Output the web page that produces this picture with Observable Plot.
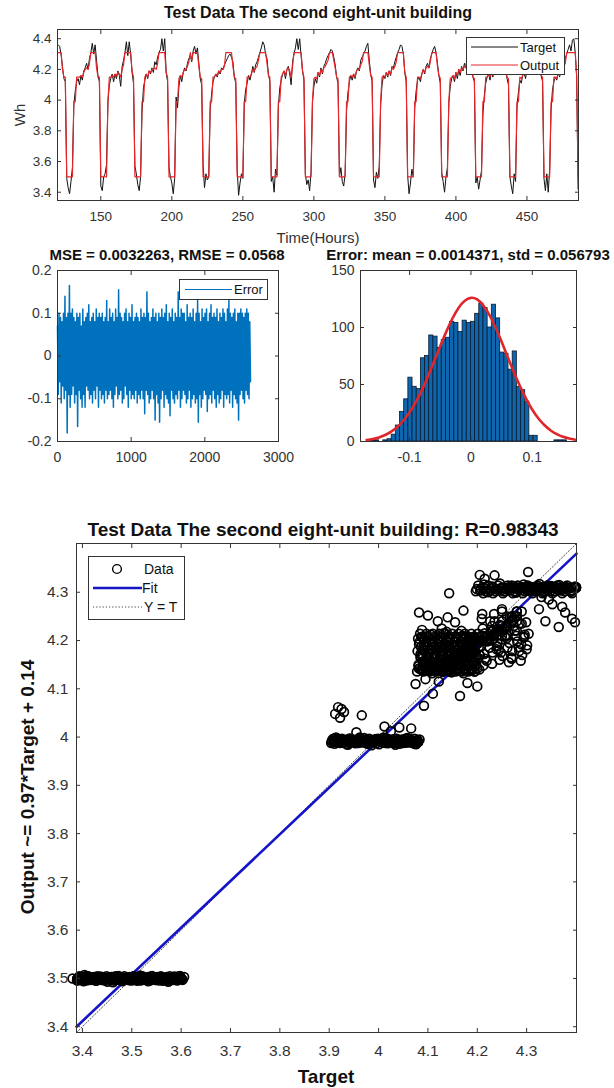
<!DOCTYPE html>
<html><head><meta charset="utf-8">
<script src="https://cdn.jsdelivr.net/npm/d3@7"></script>
<script src="https://cdn.jsdelivr.net/npm/@observablehq/plot@0.6"></script>
<style>
body{margin:0;background:#fff;font-family:"Liberation Sans",Arial,sans-serif;}
#root{position:relative;width:614px;height:1088px;overflow:hidden;background:#fff;}
.t{position:absolute;white-space:nowrap;color:#111;line-height:1;}
</style></head><body><div id="root"></div>
<script>
// ---------------- DATA ----------------
const titleTop = "Test Data The second eight-unit building";
const titleErr = "MSE = 0.0032263, RMSE = 0.0568";
const titleHist = "Error: mean = 0.0014371, std = 0.056793";
const titleReg = "Test Data The second eight-unit building: R=0.98343";
const regYLabel = "Output ~= 0.97*Target + 0.14";

const startHour = 120;
const timeTicks = [150, 200, 250, 300, 350, 400, 450];
const whTicks = [3.4, 3.6, 3.8, 4.0, 4.2, 4.4];
const target = [
4.36,4.35,4.30,4.22,4.14,4.12,
3.49,3.43,3.39,3.47,3.56,3.97,4.06,4.12,4.14,4.10,4.16,4.13,4.19,4.21,4.24,4.20,4.27,4.31,4.37,4.30,4.36,4.26,4.16,4.12,
3.44,3.41,3.50,3.52,3.58,3.99,4.10,4.14,4.17,4.12,4.17,4.14,4.19,4.16,4.09,4.22,4.26,4.31,4.38,4.29,4.38,4.30,4.18,4.11,
3.57,3.52,3.45,3.41,3.50,3.92,4.08,4.13,4.17,4.14,4.19,4.17,4.21,4.18,4.25,4.23,4.28,4.31,4.33,4.40,4.32,4.40,4.18,4.12,
3.56,3.50,3.46,3.39,3.49,4.02,3.95,4.09,4.16,4.12,4.18,4.21,4.19,4.24,4.27,4.29,4.25,4.32,4.35,4.30,4.34,4.24,4.14,4.10,
3.58,3.43,3.52,3.48,3.50,3.94,4.04,4.12,4.15,4.17,4.15,4.19,4.17,4.21,4.20,4.23,4.25,4.27,4.29,4.30,4.28,4.25,4.15,4.11,
3.55,3.38,3.46,3.52,3.49,3.98,4.07,4.11,4.16,4.13,4.17,4.22,4.18,4.23,4.25,4.28,4.31,4.34,4.38,4.36,4.30,4.27,4.17,4.12,
3.47,3.50,3.40,3.55,3.51,3.96,4.08,4.13,4.17,4.19,4.14,4.20,4.22,4.17,4.10,4.25,4.30,4.34,4.40,4.33,4.40,4.29,4.19,4.13,
3.52,3.45,3.48,3.41,3.53,3.99,4.09,4.14,4.11,4.18,4.15,4.21,4.17,4.22,4.24,4.27,4.29,4.31,4.33,4.32,4.28,4.23,4.15,4.11,
3.50,3.56,3.47,3.44,3.52,3.93,4.05,4.12,4.16,4.13,4.17,4.14,4.19,4.21,4.19,4.26,4.28,4.30,4.32,4.35,4.37,4.26,4.17,4.12,
3.48,3.43,3.53,3.49,3.57,3.97,4.10,4.16,4.14,4.18,4.15,4.19,4.16,4.22,4.21,4.25,4.28,4.31,4.33,4.36,4.35,4.30,4.18,4.12,
3.51,3.39,3.46,3.55,3.50,3.95,4.06,4.13,4.15,4.12,4.17,4.20,4.17,4.22,4.24,4.21,4.27,4.30,4.33,4.35,4.31,4.24,4.16,4.11,
3.53,3.47,3.40,3.50,3.56,3.98,4.09,4.14,4.16,4.12,4.18,4.14,4.20,4.16,4.22,4.19,4.24,4.21,4.27,4.23,4.29,4.22,4.15,4.12,
3.46,3.50,3.42,3.48,3.54,3.91,4.03,4.11,4.15,4.17,4.13,4.19,4.15,4.21,4.18,4.23,4.20,4.26,4.24,4.28,4.25,4.20,4.14,4.10,
3.50,3.44,3.39,3.52,3.47,3.96,4.05,4.13,4.11,4.16,4.18,4.14,4.20,4.22,4.18,4.24,4.21,4.27,4.25,4.30,4.26,4.22,4.16,4.12,
3.49,3.41,3.52,3.40,3.55,3.94,4.07,4.12,4.15,4.13,4.18,4.15,4.21,4.19,4.24,4.27,4.30,4.33,4.36,4.32,4.39,4.40,4.31,4.15,
3.42];
const output = [
4.31,4.31,4.31,4.20,4.15,4.15,
3.50,3.50,3.50,3.50,3.50,3.99,3.99,4.15,4.15,4.15,4.16,4.15,4.18,4.20,4.21,4.20,4.24,4.31,4.31,4.31,4.31,4.21,4.15,4.15,
3.50,3.50,3.50,3.50,3.50,3.99,4.15,4.15,4.16,4.15,4.17,4.16,4.18,4.17,4.15,4.20,4.23,4.31,4.31,4.31,4.31,4.31,4.19,4.15,
3.50,3.50,3.50,3.50,3.50,3.99,3.99,4.15,4.17,4.15,4.19,4.18,4.20,4.20,4.21,4.20,4.24,4.31,4.31,4.31,4.31,4.31,4.18,4.15,
3.50,3.50,3.50,3.50,3.50,3.99,3.99,4.14,4.16,4.15,4.18,4.20,4.20,4.22,4.25,4.31,4.26,4.31,4.31,4.31,4.31,4.22,4.15,4.14,
3.50,3.50,3.50,3.50,3.50,3.99,3.99,4.15,4.15,4.17,4.16,4.19,4.18,4.20,4.20,4.22,4.31,4.31,4.31,4.31,4.31,4.22,4.15,4.14,
3.50,3.50,3.50,3.50,3.50,3.99,3.99,4.15,4.15,4.15,4.17,4.20,4.19,4.21,4.22,4.26,4.31,4.31,4.31,4.31,4.31,4.24,4.16,4.15,
3.50,3.50,3.50,3.50,3.50,3.99,3.99,4.15,4.17,4.19,4.16,4.20,4.21,4.19,4.15,4.22,4.31,4.31,4.31,4.31,4.31,4.31,4.19,4.15,
3.50,3.50,3.50,3.50,3.50,3.99,4.14,4.15,4.14,4.18,4.16,4.20,4.18,4.21,4.22,4.24,4.26,4.31,4.31,4.31,4.26,4.21,4.15,4.14,
3.50,3.50,3.50,3.50,3.50,3.99,3.99,4.15,4.16,4.15,4.17,4.15,4.19,4.20,4.20,4.23,4.25,4.31,4.31,4.31,4.31,4.23,4.16,4.15,
3.50,3.50,3.50,3.50,3.50,3.99,4.15,4.16,4.15,4.18,4.16,4.19,4.17,4.21,4.20,4.22,4.25,4.31,4.31,4.31,4.31,4.31,4.18,4.15,
3.50,3.50,3.50,3.50,3.50,3.99,3.99,4.15,4.15,4.14,4.17,4.20,4.18,4.21,4.22,4.21,4.25,4.31,4.31,4.31,4.31,4.22,4.16,4.14,
3.50,3.50,3.50,3.50,3.50,3.99,4.14,4.15,4.16,4.14,4.18,4.16,4.20,4.18,4.21,4.20,4.22,4.21,4.31,4.23,4.31,4.21,4.15,4.14,
3.50,3.50,3.50,3.50,3.50,3.99,3.99,4.15,4.15,4.17,4.15,4.19,4.16,4.20,4.18,4.21,4.20,4.23,4.22,4.31,4.24,4.20,4.15,4.14,
3.50,3.50,3.50,3.50,3.50,3.99,3.99,4.15,4.14,4.16,4.18,4.16,4.20,4.21,4.19,4.22,4.20,4.25,4.23,4.31,4.25,4.21,4.16,4.15,
3.50,3.50,3.50,3.50,3.50,3.99,3.99,4.15,4.15,4.14,4.18,4.16,4.20,4.19,4.22,4.24,4.31,4.31,4.31,4.31,4.31,4.31,4.31,4.16,
3.50];

// error series (target - output), one value per ~10 hours of the 2620-hour test set
const errLastHour = 2620;
const errTicksX = [0, 1000, 2000, 3000];
const errTicksY = [-0.2, -0.1, 0, 0.1, 0.2];
const errorValues = [
0.07,-0.09,0.10,-0.06,0.09,-0.11,0.08,-0.07,0.10,-0.10,
0.14,-0.08,0.09,-0.18,0.10,-0.09,0.165,-0.12,0.10,-0.09,
0.11,-0.07,0.09,-0.11,0.08,-0.09,0.10,-0.165,0.09,-0.08,
0.10,-0.10,0.07,-0.12,0.11,-0.09,0.08,-0.12,0.09,-0.07,
0.10,-0.08,0.12,-0.10,0.08,-0.09,0.09,-0.11,0.10,-0.08,
0.08,-0.10,0.11,-0.07,0.09,-0.12,0.10,-0.08,0.09,-0.10,
0.10,-0.09,0.08,-0.11,0.09,-0.08,0.13,-0.10,0.08,-0.09,
0.11,-0.08,0.09,-0.10,0.10,-0.12,0.08,-0.09,0.11,-0.07,
0.09,-0.10,0.155,-0.09,0.10,-0.08,0.09,-0.11,0.08,-0.10,
0.10,-0.07,0.11,-0.09,0.08,-0.12,0.10,-0.08,0.09,-0.10,
0.12,-0.09,0.08,-0.10,0.09,-0.08,0.10,-0.11,0.09,-0.09,
0.08,-0.10,0.11,-0.08,0.09,-0.10,0.10,-0.135,0.09,-0.08,
0.15,-0.09,0.10,-0.11,0.08,-0.10,0.09,-0.08,0.11,-0.10,
0.09,-0.15,0.10,-0.09,0.08,-0.11,0.10,-0.155,0.09,-0.10,
0.11,-0.08,0.09,-0.12,0.10,-0.09,0.12,-0.10,0.08,-0.11,
0.10,-0.14,0.09,-0.08,0.11,-0.10,0.08,-0.11,0.10,-0.09,
0.09,-0.10,0.15,-0.08,0.09,-0.12,0.11,-0.10,0.10,-0.08,
0.10,-0.09,0.08,-0.11,0.12,-0.10,0.09,-0.08,0.10,-0.12,
0.09,-0.10,0.11,-0.09,0.08,-0.11,0.10,-0.10,0.13,-0.155,
0.10,-0.09,0.08,-0.12,0.11,-0.10,0.09,-0.08,0.10,-0.09,
0.11,-0.13,0.08,-0.10,0.10,-0.09,0.12,-0.11,0.09,-0.08,
0.10,-0.10,0.09,-0.12,0.11,-0.09,0.08,-0.11,0.10,-0.10,
0.09,-0.08,0.11,-0.12,0.10,-0.09,0.08,-0.10,0.11,-0.09,
0.13,-0.11,0.10,-0.08,0.09,-0.12,0.10,-0.09,0.11,-0.10,
0.08,-0.11,0.10,-0.15,0.10,-0.09,0.11,-0.08,0.10,-0.10,
0.09,-0.11,0.10,-0.08,0.11,-0.09,0.10,-0.10,0.08,-0.06];

// histogram of errors
const histFirstEdge = -0.17;
const histBinWidth = 0.0068;
const histCounts = [0,1,1,0,1, 2,6,14,26,37, 56,48,46,73,75, 93,92,82,89,91,
  105,104,96,106,104, 105,112,121,117,100, 120,108,78,77,63, 79,48,45,35,5,
  5,0,0,0,0, 1,1,1,0,0];
const histTicksX = [-0.1, 0, 0.1];
const histTicksY = [0, 50, 100, 150];
const normalX = [-0.17,-0.16,-0.15,-0.14,-0.13,-0.12,-0.11,-0.10,-0.09,-0.08,-0.07,-0.06,-0.05,-0.04,-0.03,-0.02,-0.01,0,
  0.01,0.02,0.03,0.04,0.05,0.06,0.07,0.08,0.09,0.10,0.11,0.12,0.13,0.14,0.15,0.16,0.17];
const normalY = [1.3,2.2,3.6,5.7,8.7,12.8,18.4,25.6,34.5,45.1,57.2,70.3,83.7,96.6,108.1,117.4,123.5,126,
  124.6,119.4,111,100,87.4,74,60.8,48.4,37.4,27.9,20.2,14.3,9.7,6.4,4.1,2.6,1.5];

// regression: further test-set points (target, output) beyond the hours shown on top
const extraTarget = [
// low level
3.389,3.395,3.402,3.408,3.415,3.421,3.428,3.436,3.443,3.451,3.458,3.466,3.473,3.481,3.488,3.496,3.503,3.511,3.518,3.526,3.533,3.541,3.548,3.556,3.563,3.571,3.578,3.586,3.593,3.600,3.404,3.462,3.517,3.574,3.598,
3.390,3.394,3.397,3.401,3.405,3.408,3.412,3.416,3.419,3.423,3.427,3.430,3.434,3.438,3.441,3.445,3.449,3.452,3.456,3.460,
3.463,3.467,3.471,3.474,3.478,3.482,3.485,3.489,3.493,3.496,3.500,3.504,3.507,3.511,3.515,3.518,3.522,3.526,3.529,3.533,
3.537,3.540,3.544,3.548,3.551,3.555,3.559,3.562,3.566,3.570,3.573,3.577,3.581,3.584,3.588,3.592,3.595,3.599,3.603,3.606,
3.392,3.396,3.401,3.405,3.409,3.414,3.418,3.422,3.426,3.431,3.435,3.439,3.444,3.448,3.452,3.457,3.461,3.465,3.469,3.474,
3.478,3.482,3.487,3.491,3.495,3.500,3.504,3.508,3.512,3.517,3.521,3.525,3.530,3.534,3.538,3.543,3.547,3.551,3.555,3.560,
3.564,3.568,3.573,3.577,3.581,3.586,3.590,3.594,3.598,3.602,
// 4.0 level
3.905,3.911,3.917,3.923,3.929,3.935,3.941,3.947,3.953,3.959,3.965,3.971,3.977,3.983,3.989,3.995,4.001,4.007,4.013,4.019,4.025,4.031,4.037,4.043,4.049,4.055,4.061,4.067,4.073,4.079,3.914,3.938,3.962,3.986,4.010,4.034,4.058,4.076,
3.918,3.925,3.912,3.930,3.922,3.966,4.012,4.042,4.066,3.955,4.025,
3.904,3.908,3.911,3.915,3.919,3.922,3.926,3.930,3.933,3.937,3.941,3.944,3.948,3.952,3.955,3.959,3.963,3.966,3.970,3.974,
3.977,3.981,3.985,3.988,3.992,3.996,3.999,4.003,4.007,4.010,4.014,4.018,4.021,4.025,4.029,4.032,4.036,4.040,4.043,4.047,
4.051,4.054,4.058,4.062,4.065,4.069,4.073,4.076,4.080,4.083,
3.906,3.910,3.915,3.919,3.924,3.928,3.932,3.937,3.941,3.946,3.950,3.954,3.959,3.963,3.968,3.972,3.976,3.981,3.985,3.990,
3.994,3.998,4.003,4.007,4.012,4.016,4.020,4.025,4.029,4.034,4.038,4.042,4.047,4.051,4.056,4.060,4.064,4.069,4.073,4.078,
// 4.15-4.2 level
4.082,4.090,4.098,4.106,4.114,4.122,4.130,4.138,4.146,4.154,4.162,4.170,4.178,4.186,4.194,4.202,4.085,4.095,4.105,4.115,4.125,4.135,4.145,4.155,4.165,4.175,4.185,4.195,4.088,4.108,4.128,4.148,4.168,4.188,4.204,4.092,4.132,4.172,
4.082,4.100,4.143,4.140,4.172,4.120,4.155,4.092,4.110,4.165,4.200,4.122,4.180,4.075,4.095,
4.078,4.079,4.080,4.081,4.082,4.083,4.084,4.085,4.086,4.087,4.088,4.089,4.090,4.091,4.092,4.093,4.094,4.095,4.096,4.097,
4.098,4.099,4.100,4.101,4.102,4.103,4.104,4.105,4.106,4.107,4.108,4.109,4.110,4.111,4.112,4.113,4.114,4.115,4.116,4.117,
4.118,4.119,4.120,4.121,4.122,4.123,4.124,4.125,4.126,4.127,4.128,4.129,4.130,4.131,4.132,4.133,4.134,4.135,4.136,4.137,
4.138,4.139,4.140,4.141,4.142,4.143,4.144,4.145,4.146,4.147,4.148,4.149,4.150,4.151,4.152,4.153,4.154,4.155,4.156,4.157,
4.158,4.159,4.160,4.161,4.162,4.163,4.164,4.165,4.166,4.167,4.168,4.169,4.170,4.171,4.172,4.173,4.174,4.175,4.176,4.177,
4.178,4.179,4.180,4.181,4.182,4.183,4.184,4.185,4.186,4.187,4.188,4.189,4.190,4.191,4.192,4.193,4.194,4.195,4.196,4.197,
4.198,4.199,4.200,4.201,4.202,4.203,4.204,
4.081,4.083,4.085,4.087,4.089,4.091,4.093,4.095,4.097,4.099,4.101,4.103,4.105,4.107,4.109,4.111,4.113,4.115,4.117,4.119,
4.121,4.123,4.125,4.127,4.129,4.131,4.133,4.135,4.137,4.139,4.141,4.143,4.145,4.147,4.149,4.151,4.153,4.155,4.157,4.159,
4.161,4.163,4.165,4.167,4.169,4.171,4.173,4.175,4.177,4.179,4.181,4.183,4.185,4.187,4.189,4.191,4.193,4.195,4.197,4.199,
// 4.31 level
4.206,4.214,4.222,4.230,4.238,4.246,4.254,4.262,4.270,4.278,4.286,4.294,4.302,4.310,4.318,4.326,4.334,4.342,4.350,4.358,4.366,4.374,4.382,4.390,4.398,
4.197,4.202,4.207,4.212,4.217,4.222,4.227,4.232,4.237,4.242,4.247,4.252,4.257,4.262,4.267,4.272,4.277,4.282,4.287,4.292,
4.297,4.302,4.307,4.312,4.317,4.322,4.327,4.332,4.337,4.342,4.347,4.352,4.357,4.362,4.367,4.372,4.377,4.382,4.387,4.392,
4.199,4.206,4.213,4.219,4.226,4.233,4.240,4.247,4.253,4.260,4.267,4.274,4.281,4.287,4.294,4.301,4.308,4.315,4.321,4.328,
4.335,4.342,4.349,4.355,4.362,4.369,4.376,4.383,4.389,4.396,
// 4.2-4.3 targets with lower outputs
4.205,4.215,4.225,4.235,4.245,4.255,4.265,4.275,4.285,4.295,4.210,4.230,4.250,4.270,4.290,4.220,4.240,4.260,4.280,4.300,4.212,4.248,4.288,
4.207,4.211,4.216,4.221,4.226,4.231,4.236,4.241,4.246,4.251,4.256,4.261,4.266,4.271,4.276,4.281,4.286,4.291,4.296,4.301,
4.209,4.219,4.229,4.239,4.249,4.259,4.269,4.279,4.289,4.299,4.214,4.224,4.234,4.244,4.254,4.264,4.274,4.284,4.294,4.304,
4.325,4.338,4.352,4.365,4.378,4.392,4.345,4.372,4.398,4.330,
4.205,4.235,4.303,4.215];
const extraOutput = [
3.496,3.503,3.494,3.505,3.497,3.502,3.495,3.504,3.498,3.493,3.503,3.497,3.505,3.494,3.501,3.496,3.504,3.495,3.502,3.498,3.494,3.505,3.497,3.503,3.495,3.501,3.496,3.504,3.497,3.500,3.507,3.492,3.506,3.493,3.505,
3.4955,3.5045,3.500,3.497,3.503,3.4955,3.5045,3.500,3.497,3.503,3.4955,3.5045,3.500,3.497,3.503,3.4955,3.5045,3.500,3.497,3.503,
3.4955,3.5045,3.500,3.497,3.503,3.4955,3.5045,3.500,3.497,3.503,3.4955,3.5045,3.500,3.497,3.503,3.4955,3.5045,3.500,3.497,3.503,
3.4955,3.5045,3.500,3.497,3.503,3.4955,3.5045,3.500,3.497,3.503,3.4955,3.5045,3.500,3.497,3.503,3.4955,3.5045,3.500,3.497,3.503,
3.5015,3.4985,3.500,3.5015,3.4985,3.500,3.5015,3.4985,3.500,3.5015,3.4985,3.500,3.5015,3.4985,3.500,3.5015,3.4985,3.500,3.5015,3.4985,
3.500,3.5015,3.4985,3.500,3.5015,3.4985,3.500,3.5015,3.4985,3.500,3.5015,3.4985,3.500,3.5015,3.4985,3.500,3.5015,3.4985,3.500,3.5015,
3.4985,3.500,3.5015,3.4985,3.500,3.5015,3.4985,3.500,3.5015,3.4985,
3.991,3.986,3.996,3.988,3.994,3.985,3.997,3.990,3.987,3.995,3.989,3.998,3.986,3.993,3.988,3.996,3.985,3.992,3.997,3.987,3.994,3.989,3.996,3.986,3.993,3.988,3.997,3.990,3.986,3.994,3.999,3.984,3.999,3.983,3.999,3.984,3.998,3.985,
4.062,4.058,4.048,4.052,4.040,4.045,4.022,4.020,4.018,4.010,4.012,
3.9875,3.9965,3.992,3.989,3.995,3.9875,3.9965,3.992,3.989,3.995,3.9875,3.9965,3.992,3.989,3.995,3.9875,3.9965,3.992,3.989,3.995,
3.9875,3.9965,3.992,3.989,3.995,3.9875,3.9965,3.992,3.989,3.995,3.9875,3.9965,3.992,3.989,3.995,3.9875,3.9965,3.992,3.989,3.995,
3.9875,3.9965,3.992,3.989,3.995,3.9875,3.9965,3.992,3.989,3.995,
3.9935,3.9905,3.992,3.9935,3.9905,3.992,3.9935,3.9905,3.992,3.9935,3.9905,3.992,3.9935,3.9905,3.992,3.9935,3.9905,3.992,3.9935,3.9905,
3.992,3.9935,3.9905,3.992,3.9935,3.9905,3.992,3.9935,3.9905,3.992,3.9935,3.9905,3.992,3.9935,3.9905,3.992,3.9935,3.9905,3.992,3.9935,
4.142,4.205,4.138,4.212,4.150,4.198,4.135,4.218,4.145,4.190,4.140,4.210,4.148,4.202,4.136,4.195,4.172,4.160,4.182,4.168,4.178,4.158,4.185,4.165,4.175,4.155,4.180,4.162,4.222,4.132,4.225,4.134,4.220,4.138,4.170,4.190,4.215,4.132,
4.258,4.252,4.298,4.248,4.262,4.240,4.238,4.065,4.090,4.085,4.105,4.115,4.112,4.110,4.120,
4.136,4.178,4.204,4.150,4.192,4.142,4.214,4.164,4.186,4.140,4.208,4.172,4.156,4.136,4.178,4.204,4.150,4.192,4.142,4.214,
4.164,4.186,4.140,4.208,4.172,4.156,4.136,4.178,4.204,4.150,4.192,4.142,4.214,4.164,4.186,4.140,4.208,4.172,4.156,4.136,
4.178,4.204,4.150,4.192,4.142,4.214,4.164,4.186,4.140,4.208,4.172,4.156,4.136,4.178,4.204,4.150,4.192,4.142,4.214,4.164,
4.186,4.140,4.208,4.172,4.156,4.136,4.178,4.204,4.150,4.192,4.142,4.214,4.164,4.186,4.140,4.208,4.172,4.156,4.136,4.178,
4.204,4.150,4.192,4.142,4.214,4.164,4.186,4.140,4.208,4.172,4.156,4.136,4.178,4.204,4.150,4.192,4.142,4.214,4.164,4.186,
4.140,4.208,4.172,4.156,4.136,4.178,4.204,4.150,4.192,4.142,4.214,4.164,4.186,4.140,4.208,4.172,4.156,4.136,4.178,4.204,
4.150,4.192,4.142,4.214,4.164,4.186,4.140,
4.147,4.197,4.168,4.207,4.139,4.183,4.158,4.147,4.197,4.168,4.207,4.139,4.183,4.158,4.147,4.197,4.168,4.207,4.139,4.183,
4.158,4.147,4.197,4.168,4.207,4.139,4.183,4.158,4.147,4.197,4.168,4.207,4.139,4.183,4.158,4.147,4.197,4.168,4.207,4.139,
4.183,4.158,4.147,4.197,4.168,4.207,4.139,4.183,4.158,4.147,4.197,4.168,4.207,4.139,4.183,4.158,4.147,4.197,4.168,4.207,
4.304,4.316,4.300,4.312,4.306,4.318,4.302,4.310,4.314,4.299,4.308,4.316,4.303,4.311,4.305,4.317,4.300,4.309,4.313,4.302,4.315,4.306,4.310,4.301,4.312,
4.302,4.314,4.308,4.298,4.302,4.314,4.308,4.298,4.302,4.314,4.308,4.298,4.302,4.314,4.308,4.298,4.302,4.314,4.308,4.298,
4.302,4.314,4.308,4.298,4.302,4.314,4.308,4.298,4.302,4.314,4.308,4.298,4.302,4.314,4.308,4.298,4.302,4.314,4.308,4.298,
4.3065,4.3035,4.3095,4.3065,4.3035,4.3095,4.3065,4.3035,4.3095,4.3065,4.3035,4.3095,4.3065,4.3035,4.3095,4.3065,4.3035,4.3095,4.3065,4.3035,
4.3095,4.3065,4.3035,4.3095,4.3065,4.3035,4.3095,4.3065,4.3035,4.3095,
4.170,4.215,4.185,4.240,4.160,4.225,4.195,4.250,4.178,4.208,4.255,4.152,4.265,4.162,4.235,4.198,4.188,4.205,4.220,4.182,4.148,4.175,4.158,
4.188,4.225,4.162,4.205,4.240,4.175,4.215,4.195,4.232,4.168,4.208,4.185,4.248,4.178,4.220,4.198,4.236,4.170,4.212,4.190,
4.245,4.158,4.218,4.182,4.202,4.228,4.165,4.210,4.192,4.238,4.172,4.200,4.255,4.180,4.222,4.155,4.230,4.186,4.206,4.214,
4.265,4.240,4.275,4.228,4.258,4.245,4.285,4.270,4.238,4.290,
4.336,4.335,4.342,4.328];
const regLimits = [3.388, 4.401];
const regTicks = [3.4, 3.5, 3.6, 3.7, 3.8, 3.9, 4.0, 4.1, 4.2, 4.3];
const fitTarget = [3.388, 4.401];
const fitOutput = [3.40, 4.38];

// ---------------- RENDER ----------------
const root = document.getElementById("root");
const FONT = "'Liberation Sans', Arial, sans-serif";
const fmt = d => String(+(+d).toFixed(3));
const blank = () => "";

function put(el, left, top) {
  el.style.position = "absolute";
  el.style.left = left + "px";
  el.style.top = top + "px";
  root.appendChild(el);
  return el;
}
function text(str, cx, cy, size, bold, rotate) {
  const d = document.createElement("div");
  d.className = "t";
  d.textContent = str;
  d.style.fontSize = size + "px";
  d.style.fontWeight = bold ? "bold" : "normal";
  d.style.fontFamily = FONT;
  d.style.color = bold ? "#111" : "#333";
  put(d, cx, cy);
  d.style.transform = `translate(-50%,-50%)${rotate ? " rotate(-90deg)" : ""}`;
  return d;
}
function boxAxes(xt, yt, fs, padX, padY) {
  return [
    Plot.axisX(xt, {anchor: "bottom", tickSize: -4, tickPadding: padX, tickFormat: fmt, fontSize: fs, fill: "#333", stroke: "#333", label: null}),
    Plot.axisX(xt, {anchor: "top", tickSize: -4, tickFormat: blank, stroke: "#333", label: null}),
    Plot.axisY(yt, {anchor: "left", tickSize: -4, tickPadding: padY, tickFormat: fmt, fontSize: fs, fill: "#333", stroke: "#333", label: null}),
    Plot.axisY(yt, {anchor: "right", tickSize: -4, tickFormat: blank, stroke: "#333", label: null}),
    Plot.frame({stroke: "#333", strokeWidth: 1})
  ];
}
const svgStyle = {fontFamily: FONT, background: "transparent", overflow: "visible"};

// Panel 1: time series
const series = target.map((t, i) => ({hour: startHour + i, target: t, output: output[i]}));
const p1 = Plot.plot({
  width: 614, height: 245, marginLeft: 57, marginRight: 36, marginTop: 29, marginBottom: 45,
  x: {domain: [119.5, 486.3], label: null},
  y: {domain: [3.346, 4.46], label: null},
  style: svgStyle,
  marks: [
    Plot.line(series, {x: "hour", y: "target", stroke: "#111", strokeWidth: 1}),
    Plot.line(series, {x: "hour", y: "output", stroke: "#e8262a", strokeWidth: 1.2}),
    ...boxAxes(timeTicks, whTicks, 13.5, 15, 10)
  ]
});
put(p1, 0, 0);
text(titleTop, 318, 13, 16, true);
text("Time(Hours)", 318, 237, 15, false);
text("Wh", 19, 115, 15, false, true);

// Panel 2: error series
const errStep = errLastHour / (errorValues.length - 1);
const errRows = errorValues.map((e, i) => ({idx: i * errStep, err: e}));
const p2 = Plot.plot({
  width: 300, height: 222, marginLeft: 57, marginRight: 22, marginTop: 20, marginBottom: 31,
  x: {domain: [0, 3000], label: null},
  y: {domain: [-0.2, 0.2], label: null},
  style: svgStyle,
  marks: [
    Plot.line(errRows, {x: "idx", y: "err", stroke: "#0072BD", strokeWidth: 1.5}),
    ...boxAxes(errTicksX, errTicksY, 14, 15, 10)
  ]
});
put(p2, 0, 250);
text(titleErr, 167, 254, 15, true);

// Panel 3: histogram
const bins = histCounts.map((c, i) => ({x1: histFirstEdge + i * histBinWidth, x2: histFirstEdge + (i + 1) * histBinWidth, count: c})).filter(b => b.count > 0);
const normalRows = normalX.map((x, i) => ({x, y: normalY[i]}));
const p3 = Plot.plot({
  width: 314, height: 222, marginLeft: 60, marginRight: 38, marginTop: 20, marginBottom: 31,
  x: {domain: [-0.18, 0.172], label: null},
  y: {domain: [0, 150], label: null},
  style: svgStyle,
  marks: [
    Plot.rectY(bins, {x1: "x1", x2: "x2", y: "count", fill: "#0e66ae", stroke: "#0b1a2e", strokeWidth: 0.8}),
    Plot.line(normalRows, {x: "x", y: "y", stroke: "#e0262b", strokeWidth: 2.6, curve: "natural"}),
    ...boxAxes(histTicksX, histTicksY, 14, 15, 10)
  ]
});
put(p3, 300, 250);
text(titleHist, 468, 254, 15, true);

// Panel 4: regression
const pairs = target.map((t, i) => ({t, o: output[i]}))
  .concat(extraTarget.map((t, i) => ({t, o: extraOutput[i]})));
const fitRows = fitTarget.map((t, i) => ({t, o: fitOutput[i]}));
const identRows = regLimits.map(v => ({t: v, o: v}));
const p4 = Plot.plot({
  width: 614, height: 580, marginLeft: 76, marginRight: 38, marginTop: 53, marginBottom: 38,
  x: {domain: regLimits, label: null},
  y: {domain: regLimits, label: null},
  style: svgStyle,
  marks: [
    Plot.line(identRows, {x: "t", y: "o", stroke: "#444", strokeWidth: 1, strokeDasharray: "1.2,2"}),
    Plot.line(fitRows, {x: "t", y: "o", stroke: "#1414c8", strokeWidth: 2.6}),
    Plot.dot(pairs, {x: "t", y: "o", r: 4.4, stroke: "#000", strokeWidth: 1.7, fill: "none"}),
    ...boxAxes(regTicks, regTicks.filter(v => v < 4.35), 15.5, 16, 12)
  ]
});
put(p4, 0, 490);
text(titleReg, 323, 529, 19, true);
text("Target", 326, 1076, 19, true);
text(regYLabel, 27, 787, 19, true, true);

// Legends (small SVG boxes)
function legend(left, top, w, h, rows) {
  const svg = d3.create("svg").attr("width", w).attr("height", h).style("font-family", FONT);
  svg.append("rect").attr("x", 0.5).attr("y", 0.5).attr("width", w - 1).attr("height", h - 1)
    .attr("fill", "#fff").attr("stroke", "#333");
  rows.forEach(r => {
    if (r.kind === "circle") {
      svg.append("circle").attr("cx", r.x1).attr("cy", r.y).attr("r", 4.4).attr("fill", "none").attr("stroke", "#000").attr("stroke-width", 1.4);
    } else {
      svg.append("line").attr("x1", r.x1).attr("x2", r.x2).attr("y1", r.y).attr("y2", r.y)
        .attr("stroke", r.color).attr("stroke-width", r.width).attr("stroke-dasharray", r.dash || null);
    }
    svg.append("text").attr("x", r.tx).attr("y", r.y).attr("dy", "0.35em").attr("font-size", r.fs)
      .attr("fill", "#111").text(r.label);
  });
  put(svg.node(), left, top);
}
legend(466, 37, 99, 38, [
  {label: "Target", x1: 5, x2: 52, tx: 54, y: 10, color: "#111", width: 1, fs: 13},
  {label: "Output", x1: 5, x2: 52, tx: 54, y: 28, color: "#e8262a", width: 1.2, fs: 13}
]);
legend(179, 279, 89, 21, [
  {label: "Error", x1: 6, x2: 53, tx: 55, y: 10.5, color: "#0072BD", width: 1, fs: 13}
]);
legend(88, 556, 97, 64, [
  {label: "Data", kind: "circle", x1: 29, tx: 56, y: 13, fs: 14},
  {label: "Fit", x1: 5, x2: 54, tx: 54, y: 32, color: "#1414c8", width: 2.6, fs: 14},
  {label: "Y = T", x1: 5, x2: 54, tx: 56, y: 51, color: "#444", width: 1, dash: "1.2,2", fs: 14}
]);
</script></body></html>
